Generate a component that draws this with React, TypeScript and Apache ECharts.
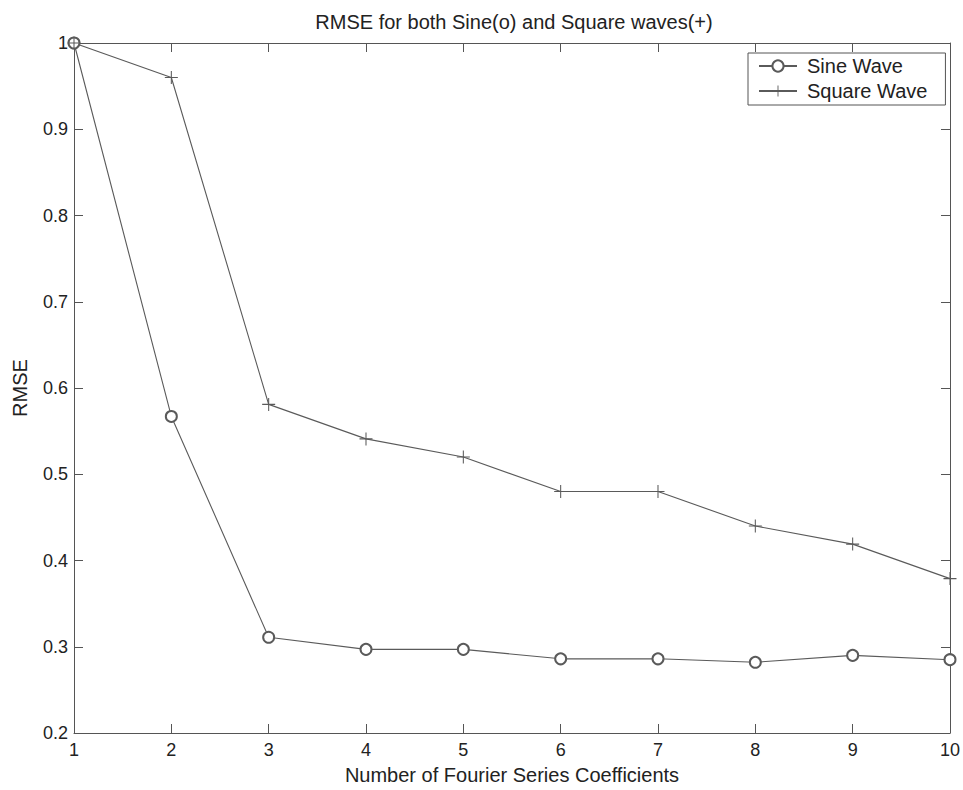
import React, { useEffect, useRef } from "react";
import * as echarts from "echarts";

const coefficients = [1, 2, 3, 4, 5, 6, 7, 8, 9, 10];
const sineRmse = [1.0, 0.567, 0.311, 0.297, 0.297, 0.286, 0.286, 0.282, 0.29, 0.285];
const squareRmse = [1.0, 0.96, 0.581, 0.541, 0.52, 0.48, 0.48, 0.44, 0.419, 0.379];
const titleText = "RMSE for both Sine(o) and Square waves(+)";
const xName = "Number of Fourier Series Coefficients";
const yName = "RMSE";
const seriesNames = ["Sine Wave", "Square Wave"];

const FONT = "'Liberation Sans', Arial, sans-serif";
const AXIS_COLOR = "#555";
const LINE_COLOR = "#5a5a5a";
const TEXT_COLOR = "#222";
const PLUS =
  "path://M4.6,0 L5.4,0 L5.4,4.6 L10,4.6 L10,5.4 L5.4,5.4 L5.4,10 L4.6,10 L4.6,5.4 L0,5.4 L0,4.6 L4.6,4.6 Z";

export default function App() {
  const ref = useRef<HTMLDivElement>(null);

  useEffect(() => {
    if (!ref.current) return;
    const chart = echarts.init(ref.current, undefined, { renderer: "svg" });

    const tickCommon = {
      axisLine: { show: true, lineStyle: { color: AXIS_COLOR, width: 1 } },
      axisTick: { show: true, inside: true, length: 9, lineStyle: { color: AXIS_COLOR } },
      splitLine: { show: false },
    };

    chart.setOption({
      animation: false,
      backgroundColor: "#fff",
      textStyle: { fontFamily: FONT },
      graphic: [
        {
          type: "text",
          x: 514,
          y: 22,
          style: {
            text: titleText,
            font: `20px ${FONT}`,
            fill: TEXT_COLOR,
            align: "center",
            verticalAlign: "middle",
          },
        },
      ],
      grid: { left: 74, right: 6, top: 43, bottom: 52, containLabel: false },
      legend: {
        left: 748,
        top: 53,
        orient: "vertical",
        backgroundColor: "#fff",
        borderColor: AXIS_COLOR,
        borderWidth: 1,
        borderRadius: 0,
        padding: [3, 18, 4, 10],
        itemWidth: 38,
        itemHeight: 14,
        itemGap: 5,
        textStyle: { fontFamily: FONT, fontSize: 20, color: TEXT_COLOR, padding: [0, 0, 0, 5] },
        data: seriesNames,
      },
      xAxis: [
        {
          type: "value",
          min: 1,
          max: 10,
          interval: 1,
          position: "bottom",
          name: xName,
          nameLocation: "middle",
          nameGap: 32,
          nameTextStyle: { fontFamily: FONT, fontSize: 20, color: TEXT_COLOR },
          axisLabel: { fontFamily: FONT, fontSize: 18, color: TEXT_COLOR, margin: 8 },
          ...tickCommon,
        },
        {
          type: "value",
          min: 1,
          max: 10,
          interval: 1,
          position: "top",
          axisLabel: { show: false },
          ...tickCommon,
        },
      ],
      yAxis: [
        {
          type: "value",
          min: 0.2,
          max: 1,
          interval: 0.1,
          position: "left",
          name: yName,
          nameLocation: "middle",
          nameGap: 44,
          nameTextStyle: { fontFamily: FONT, fontSize: 20, color: TEXT_COLOR },
          axisLabel: {
            fontFamily: FONT,
            fontSize: 18,
            color: TEXT_COLOR,
            margin: 6,
            formatter: (v: number) => String(Math.round(v * 10) / 10),
          },
          ...tickCommon,
        },
        {
          type: "value",
          min: 0.2,
          max: 1,
          interval: 0.1,
          position: "right",
          axisLabel: { show: false },
          ...tickCommon,
        },
      ],
      series: [
        {
          name: seriesNames[0],
          type: "line",
          data: coefficients.map((c, i) => [c, sineRmse[i]]),
          symbol: "emptyCircle",
          symbolSize: 11,
          showAllSymbol: true,
          clip: false,
          lineStyle: { color: LINE_COLOR, width: 1.1 },
          itemStyle: { color: LINE_COLOR, borderColor: LINE_COLOR, borderWidth: 1 },
          emphasis: { disabled: true },
          z: 3,
        },
        {
          name: seriesNames[1],
          type: "line",
          data: coefficients.map((c, i) => [c, squareRmse[i]]),
          symbol: PLUS,
          symbolSize: 13,
          showAllSymbol: true,
          clip: false,
          lineStyle: { color: LINE_COLOR, width: 1.1 },
          itemStyle: { color: LINE_COLOR, borderWidth: 0 },
          emphasis: { disabled: true },
          z: 3,
        },
      ],
    });

    return () => chart.dispose();
  }, []);

  return (
    <div
      ref={ref}
      style={{ position: "fixed", left: 0, top: 0, width: 963, height: 790, background: "#fff" }}
    />
  );
}
